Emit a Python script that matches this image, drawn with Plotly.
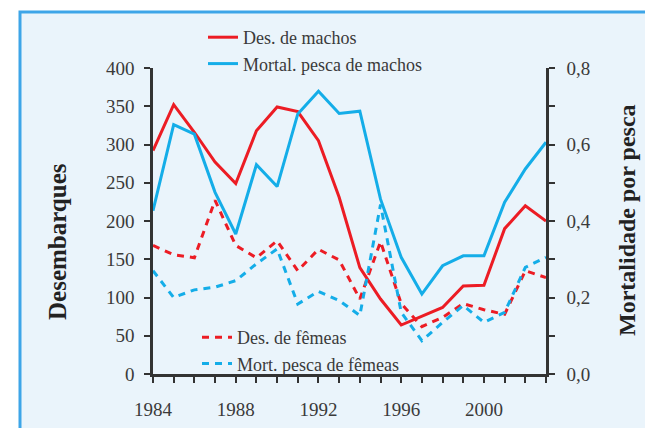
import plotly.graph_objects as go

years = list(range(1984, 2004))
des_machos = [292, 352, 316, 277, 249, 318, 349, 343, 305, 231, 139, 98, 64, 75, 87, 115, 116, 190, 220, 200]
mort_machos = [0.427, 0.652, 0.627, 0.475, 0.366, 0.547, 0.490, 0.680, 0.739, 0.681, 0.687, 0.457, 0.305, 0.209, 0.283, 0.309, 0.309, 0.449, 0.536, 0.606]
des_femeas = [168, 156, 152, 227, 168, 152, 174, 135, 163, 149, 98, 173, 92, 62, 74, 92, 84, 78, 135, 126]
mort_femeas = [0.270, 0.200, 0.220, 0.227, 0.244, 0.288, 0.327, 0.183, 0.216, 0.192, 0.153, 0.443, 0.161, 0.087, 0.135, 0.179, 0.135, 0.161, 0.279, 0.305]

x_tick_labels = {1984: "1984", 1988: "1988", 1992: "1992", 1996: "1996", 2000: "2000"}
left_ticks = [0, 50, 100, 150, 200, 250, 300, 350, 400]
right_ticks = [0.0, 0.1, 0.2, 0.3, 0.4, 0.5, 0.6, 0.7, 0.8]
right_labels = ["0,0", "", "0,2", "", "0,4", "", "0,6", "", "0,8"]

RED = "#EC1C24"
BLUE = "#14ADE8"
TXT = "#3a3a3a"
FONT = "Liberation Serif, Times New Roman, serif"

fig = go.Figure()
fig.add_trace(go.Scatter(x=years, y=mort_femeas, yaxis="y2", mode="lines", name="Mort. pesca de fêmeas",
                         line=dict(color=BLUE, width=3, dash="7px,6px"), legend="legend2", legendrank=2))
fig.add_trace(go.Scatter(x=years, y=des_femeas, mode="lines", name="Des. de fêmeas",
                         line=dict(color=RED, width=3, dash="7px,6px"), legend="legend2", legendrank=1))
fig.add_trace(go.Scatter(x=years, y=des_machos, mode="lines", name="Des. de machos",
                         line=dict(color=RED, width=3), legend="legend", legendrank=1))
fig.add_trace(go.Scatter(x=years, y=mort_machos, yaxis="y2", mode="lines", name="Mortal. pesca de machos",
                         line=dict(color=BLUE, width=3), legend="legend", legendrank=2))

W, H = 645, 428
# plot area in screen pixels: x 153..546, y 68..374
L, T = 153, 68
R = W - 546
B = H - 374
pw, ph = W - L - R, H - T - B

def px(xs):
    return (xs - L) / pw

def py(ys):
    return (H - B - ys) / ph

fig.update_layout(
    width=W, height=H,
    margin=dict(l=L, r=R, t=T, b=B, pad=0, autoexpand=False),
    paper_bgcolor="white",
    plot_bgcolor="rgba(0,0,0,0)",
    font=dict(family=FONT, size=19, color=TXT),
    xaxis=dict(range=[1984, 2003], tickvals=years,
               ticktext=[x_tick_labels.get(y, "") for y in years],
               showgrid=False, zeroline=False, showline=True, linecolor="#333", linewidth=2.5,
               ticks="outside", ticklen=6, tickwidth=2, tickcolor="#333", ticklabelstandoff=10),
    yaxis=dict(range=[0, 400], tickvals=left_ticks, showgrid=False, zeroline=False,
               showline=True, linecolor="#333", linewidth=2.5,
               ticks="outside", ticklen=6, tickwidth=2, tickcolor="#333", ticklabelstandoff=6),
    yaxis2=dict(range=[0, 0.8], tickvals=right_ticks, ticktext=right_labels, overlaying="y", side="right",
                showgrid=False, zeroline=False, showline=True, linecolor="#333", linewidth=2.5,
                ticks="outside", ticklen=6, tickwidth=2, tickcolor="#333", ticklabelstandoff=8),
    legend=dict(x=px(203), y=py(19), xanchor="left", yanchor="top", bgcolor="rgba(0,0,0,0)",
                font=dict(family=FONT, size=18, color=TXT), tracegroupgap=0),
    legend2=dict(x=px(197), y=py(319), xanchor="left", yanchor="top", bgcolor="rgba(0,0,0,0)",
                 font=dict(family=FONT, size=18, color=TXT), tracegroupgap=0),
    showlegend=True,
)

fig.add_shape(type="rect", xref="paper", yref="paper",
              x0=px(20), x1=px(700), y0=py(480), y1=py(12),
              line=dict(color="#3DA5E8", width=3), fillcolor="#EAF4FB", layer="below")

fig.add_annotation(text="<b>Desembarques</b>", xref="paper", yref="paper", x=px(57), y=py(242),
                   xanchor="center", yanchor="middle",
                   textangle=-90, showarrow=False, font=dict(family=FONT, size=25, color="#222"))
fig.add_annotation(text="<b>Mortalidade por pesca</b>", xref="paper", yref="paper", x=px(627), y=py(220),
                   xanchor="center", yanchor="middle",
                   textangle=-90, showarrow=False, font=dict(family=FONT, size=24, color="#222"))

fig.write_html("out.html",
               config={"displayModeBar": False},
               post_script="document.body.style.margin='0';document.body.style.overflow='hidden';")
